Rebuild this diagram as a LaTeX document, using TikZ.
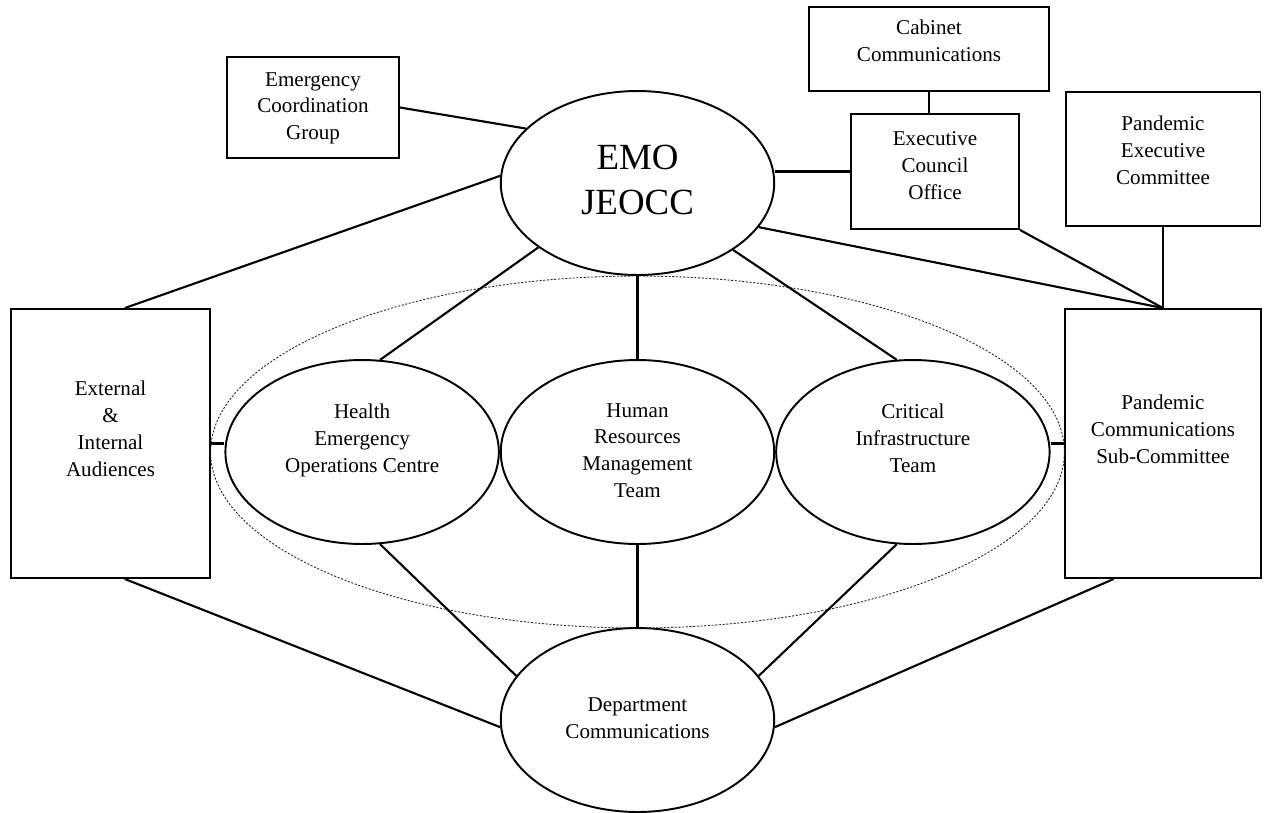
\documentclass[tikz,border=0pt]{standalone}
\usepackage{fontspec}
\setmainfont{Liberation Serif}
\usepackage{tikz}
\usetikzlibrary{positioning,shapes.geometric}
% multi-line label, optionally lifted inside its shape
\newcommand{\lbl}[2][0pt]{\raisebox{#1}[\height][\depth]{\begin{tabular}{@{}c@{}}#2\end{tabular}}}

\begin{document}
\begin{tikzpicture}[x=0.02cm,y=-0.02cm,
		box/.style={draw=black,line width=1.1pt,inner sep=0pt,font=\fontsize{12}{15.3}\selectfont},
		team/.style={draw=black,ellipse,line width=1.1pt,inner sep=0pt,minimum width=5.47cm,minimum height=3.68cm,font=\fontsize{12}{15.3}\selectfont},
		hub/.style={team,font=\fontsize{21}{26}\selectfont},
		link/.style={line width=1.2pt},
		grouping/.style={line width=0.5pt,dash pattern=on 1.2pt off 0.9pt,black!85}]
		\useasboundingbox (0,0) rectangle (1264,812);
		
		\node[hub] (jeocc) at (637.5,183) {\lbl{EMO\\JEOCC}};
		\node[box,minimum width=3.44cm,minimum height=2.02cm] (ecg) at (313,107.5) {\lbl{Emergency\\Coordination\\Group}};
		\node[box,minimum width=4.8cm,minimum height=1.68cm] (cab) at (929,49) {\lbl[3.4pt]{Cabinet\\Communications}};
		\node[box,minimum width=3.36cm,minimum height=2.3cm] (eco) at (935,171.5) {\lbl[2.5pt]{Executive\\Council\\Office}};
		\node[box,minimum width=3.9cm,minimum height=2.68cm] (pec) at (1163,159) {\lbl[4pt]{Pandemic\\Executive\\Committee}};
		\node[box,minimum width=3.98cm,minimum height=5.38cm] (ext) at (110.5,443.5) {\lbl[7.4pt]{External\\\&\\Internal\\Audiences}};
		\node[box,minimum width=3.92cm,minimum height=5.38cm] (pcsc) at (1163,443.5) {\lbl[7pt]{Pandemic\\Communications\\Sub-Committee}};
		
		\node[team] (hrmt) at (637.5,452) {\lbl{Human\\Resources\\Management\\Team}};
		\node[team,left=0pt of hrmt] (heoc) {\lbl[6.8pt]{Health\\Emergency\\Operations Centre}};
		\node[team,right=0pt of hrmt] (cit) {\lbl[6.8pt]{Critical\\Infrastructure\\Team}};
		\node[team] (dept) at (637.5,720) {\lbl{Department\\Communications}};
		
		\draw[grouping] (hrmt.center) ellipse [x radius=8.54cm,y radius=3.52cm];
		
		% around the hub
		\draw[link] (ecg.east)--(jeocc.154);
		\draw[link] (jeocc.177)--(ext.84);
		\draw[link] (jeocc.213)--(heoc.79);
		\draw[link] (jeocc.south)--(hrmt.north);
		\draw[link] (jeocc.325)--(cit.100);
		\draw[link] (eco.west -| jeocc.east)--(eco.west);
		\draw[link] (cab.south)--(cab.south |- eco.north);
		\draw[link] (jeocc.340)--(pcsc.north);
		\draw[link] (eco.south east)--(pcsc.north);
		\draw[link] (pec.south)--(pcsc.north);
		
		% sides
		\draw[link] (ext.east)--(ext.east -| heoc.west);
		\draw[link] (pcsc.west -| cit.east)--(pcsc.west);
		
		% down to department
		\draw[link] (ext.276)--(dept.183);
		\draw[link] (heoc.281)--(dept.160);
		\draw[link] (hrmt.south)--(dept.north);
		\draw[link] (cit.260)--(dept.20);
		\draw[link] (pcsc.250)--(dept.357);
	\end{tikzpicture}
\end{document}
